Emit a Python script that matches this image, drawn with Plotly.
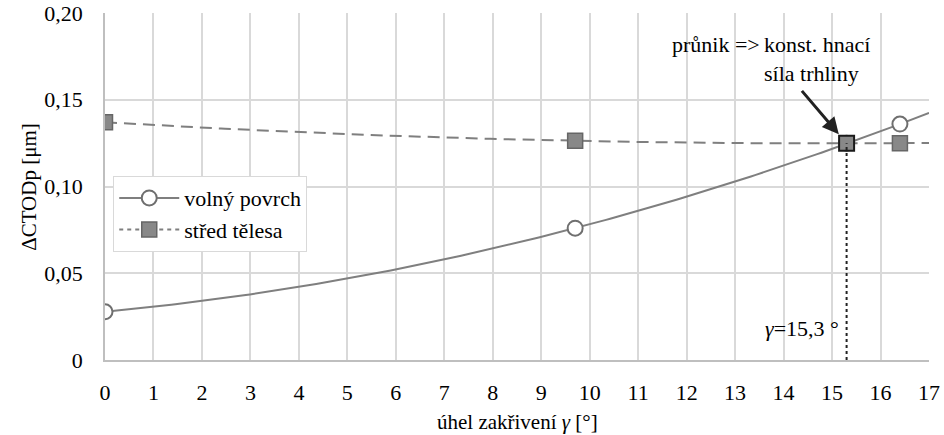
import numpy as np
import plotly.graph_objects as go

# measured points
gamma = [0.0, 9.7, 16.4]
volny_povrch = [0.0278, 0.0760, 0.1360]
stred_telesa = [0.1370, 0.1263, 0.1250]
intersection_gamma = 15.3

x_ticks = list(range(0, 18))
y_ticks = [0, 0.05, 0.10, 0.15, 0.20]
y_labels = ["0", "0,05", "0,10", "0,15", "0,20"]

FONT = "Liberation Serif"
TXT = "black"
LINE_GREY = "#7f7f7f"
DASH = "12px,7px"


def serif(size=22):
    return dict(family=FONT, size=size, color=TXT)


def sp(text):
    # wrap a label so the serif face is also set on the inner span
    return '<span style="font-family:Liberation Serif">' + text + "</span>"


x_tick_text = [sp(str(v)) for v in x_ticks]
y_tick_text = [sp(t) for t in y_labels]

# quadratic trend lines through the measured points
fit_v = np.polyfit(gamma, volny_povrch, 2)
fit_s = np.polyfit(gamma, stred_telesa, 2)
xs = np.linspace(0, 17, 200)
y_int = float(np.polyval(fit_s, intersection_gamma))

circle_marker = dict(symbol="circle", size=15, color="white",
                     line=dict(color="#6f6f6f", width=2))
square_marker = dict(symbol="square", size=15, color="#888888",
                     line=dict(color="#666666", width=1.5))

fig = go.Figure()

# trend lines
fig.add_trace(go.Scatter(
    x=xs, y=np.polyval(fit_v, xs), mode="lines",
    line=dict(color=LINE_GREY, width=2), showlegend=False, hoverinfo="skip"))
fig.add_trace(go.Scatter(
    x=xs, y=np.polyval(fit_s, xs), mode="lines",
    line=dict(color=LINE_GREY, width=2, dash=DASH), showlegend=False,
    hoverinfo="skip"))

# measured points
fig.add_trace(go.Scatter(x=gamma, y=volny_povrch, mode="markers",
                         marker=circle_marker, showlegend=False))
fig.add_trace(go.Scatter(x=gamma, y=stred_telesa, mode="markers",
                         marker=square_marker, showlegend=False))

# legend entries (line + marker)
fig.add_trace(go.Scatter(x=[None], y=[None], mode="lines+markers",
                         name=sp("volný povrch"),
                         line=dict(color=LINE_GREY, width=2),
                         marker=circle_marker))
fig.add_trace(go.Scatter(x=[None], y=[None], mode="lines+markers",
                         name=sp("střed tělesa"),
                         line=dict(color=LINE_GREY, width=2, dash="4px,4px"),
                         marker=square_marker))

# intersection of both trend lines
fig.add_trace(go.Scatter(
    x=[intersection_gamma], y=[y_int], mode="markers", showlegend=False,
    marker=circle_marker))
fig.add_trace(go.Scatter(
    x=[intersection_gamma], y=[y_int], mode="markers", showlegend=False,
    marker=dict(symbol="square", size=15, color="#888888",
                line=dict(color="#1a1a1a", width=2))))

# dotted drop line to the axis
fig.add_shape(type="line", x0=intersection_gamma, x1=intersection_gamma,
              y0=0, y1=y_int, line=dict(color="#222222", width=2, dash="dot"))

fig.add_annotation(x=intersection_gamma, y=0.018, xref="x", yref="y",
                   text=sp("<i>γ</i>=15,3 °"), showarrow=False,
                   xanchor="right", xshift=-6, font=serif(22))
fig.add_annotation(x=intersection_gamma, y=y_int, xref="x", yref="y",
                   ax=-46, ay=-54, text="", showarrow=True, arrowhead=2,
                   arrowsize=1.1, arrowwidth=3, arrowcolor="#222222",
                   standoff=12)
fig.add_annotation(x=13.55, y=0.190, xref="x", yref="y", xanchor="left",
                   yanchor="top", align="left", showarrow=False,
                   text=sp("konst. hnací") + "<br>" + sp("síla trhliny"),
                   font=serif(22))
fig.add_annotation(x=13.55, y=0.190, xref="x", yref="y", xanchor="right",
                   yanchor="top", align="right", showarrow=False,
                   text=sp("průnik =>"), font=serif(22))

# axis titles
fig.add_annotation(x=0.5, y=-0.18, xref="paper", yref="paper",
                   xanchor="center", yanchor="middle", showarrow=False,
                   text=sp("úhel zakřivení <i>γ</i> [°]"), font=serif(21))
fig.add_annotation(x=-0.093, y=0.5, xref="paper", yref="paper",
                   xanchor="center", yanchor="middle", showarrow=False,
                   textangle=-90, text=sp("ΔCTODp [μm]"), font=serif(21))

fig.update_layout(
    template="none",
    width=944, height=435,
    margin=dict(l=105, r=15, t=13, b=75),
    paper_bgcolor="white", plot_bgcolor="white",
    legend=dict(x=0.01, y=0.53, xanchor="left", yanchor="top",
                bgcolor="white", bordercolor="#d9d9d9", borderwidth=1,
                font=serif(22), itemwidth=60, tracegroupgap=0),
    xaxis=dict(range=[0, 17], tickvals=x_ticks, ticktext=x_tick_text,
               showgrid=True, gridcolor="#d9d9d9", gridwidth=1.5,
               zeroline=False, showline=True, linecolor="#bfbfbf",
               linewidth=1.5, ticks="outside", ticklen=12,
               tickcolor="rgba(0,0,0,0)", automargin=False,
               tickfont=serif(22)),
    yaxis=dict(range=[0, 0.20], tickvals=y_ticks, ticktext=y_tick_text,
               showgrid=True, gridcolor="#d9d9d9", gridwidth=1.5,
               zeroline=False, showline=True, linecolor="#bfbfbf",
               linewidth=1.5, ticks="outside", ticklen=16,
               tickcolor="rgba(0,0,0,0)", automargin=False,
               tickfont=serif(22)),
)

fig.write_html("out.html")
